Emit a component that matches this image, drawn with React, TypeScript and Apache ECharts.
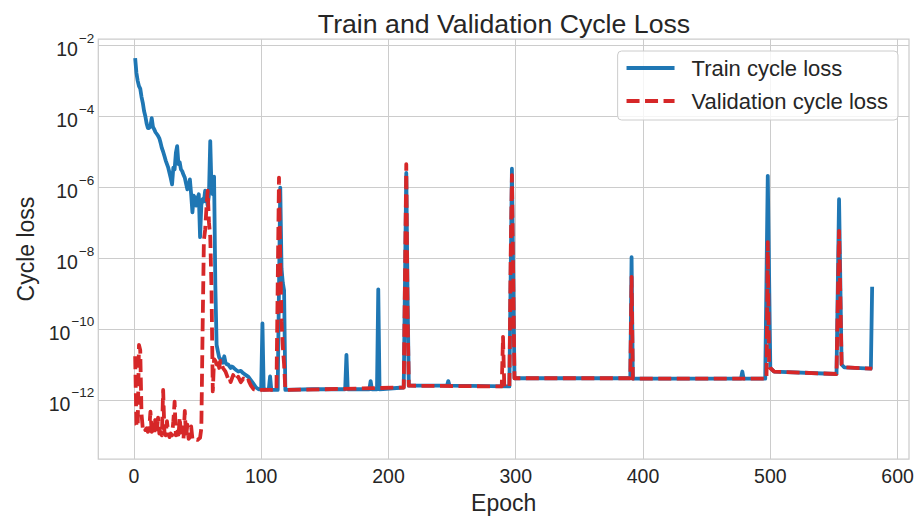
import React, { useEffect, useRef } from "react";
import * as echarts from "echarts";

// Tick values
const xTicks = [0, 100, 200, 300, 400, 500, 600];
const yTickExps = [-12, -10, -8, -6, -4, -2];

// Train cycle loss, stored as log10(loss)
const trainEpochs = [
  1, 2, 3, 4, 5, 6, 7, 8, 9, 10, 11, 12, 13, 14, 15, 16, 17, 18, 19, 20,
  21, 22, 23, 24, 25, 26, 27, 28, 29, 30, 31, 32, 33, 34, 35, 36, 37, 38, 39, 40,
  41, 42, 43, 44, 45, 46, 47, 48, 49, 50, 51, 52, 53, 54, 55, 56, 57, 58, 59, 60,
  61, 62, 63, 64, 65, 66, 67, 68, 69, 70, 71, 72, 73, 74, 75, 76, 77, 78, 80, 82,
  84, 86, 88, 90, 92, 94, 96, 98, 100, 101, 102, 106, 107, 108, 113, 115, 116, 117, 118, 119,
  140, 166, 167, 168, 185, 186, 187, 191, 192, 193, 212, 214, 215, 216, 246, 247, 248, 295, 297, 299,
  390, 391, 392, 477, 478, 479, 496, 498, 500, 503, 552, 554, 556, 558, 579, 580,
];
const trainLossLog10 = [
  -2.36, -2.78, -3.0, -3.15, -3.22, -3.45, -3.62, -3.85, -4.0, -4.2, -4.33, -4.33, -4.28, -4.05, -4.3, -4.37, -4.45, -4.5, -4.55, -4.62,
  -4.75, -4.9, -5.0, -5.12, -5.25, -5.35, -5.45, -5.6, -5.75, -5.92, -5.45, -5.5, -5.03, -4.84, -5.35, -5.3, -5.5, -5.55, -5.65, -5.73,
  -5.9, -6.06, -6.0, -5.78, -6.2, -6.71, -6.24, -6.3, -6.52, -6.3, -6.2, -7.41, -6.5, -6.34, -6.4, -6.1, -6.3, -6.52, -6.2, -4.7,
  -6.06, -6.2, -5.7, -8.77, -10.45, -10.63, -10.8, -10.85, -10.9, -10.95, -10.77, -10.95, -11.0, -11.0, -11.05, -11.1, -11.06, -11.08, -11.15, -11.2,
  -11.18, -11.25, -11.3, -11.35, -11.45, -11.55, -11.65, -11.7, -11.7, -9.84, -11.72, -11.7, -11.34, -11.72, -11.72, -6.01, -8.3, -8.7, -8.91, -11.72,
  -11.7, -11.7, -10.73, -11.7, -11.7, -11.47, -11.7, -11.7, -8.88, -11.7, -11.65, -5.6, -9.0, -11.6, -11.6, -11.47, -11.6, -11.62, -5.48, -11.39,
  -11.39, -7.97, -11.4, -11.4, -11.2, -11.4, -11.4, -5.68, -11.1, -11.2, -11.27, -6.34, -11.0, -11.08, -11.12, -8.81,
];

// Validation cycle loss, stored as log10(loss)
const valEpochs = [
  1, 2, 3, 4, 5, 6, 7, 8, 9, 10, 11, 12, 13, 14, 15, 16, 17, 18, 19, 20,
  21, 22, 23, 24, 25, 26, 27, 28, 29, 30, 31, 32, 33, 34, 35, 36, 37, 38, 39, 40,
  41, 42, 43, 44, 45, 46, 47, 48, 49, 50, 51, 52, 53, 54, 55, 56, 57, 58, 59, 60,
  61, 62, 63, 64, 65, 66, 67, 68, 70, 72, 74, 75, 76, 78, 80, 82, 84, 86, 88, 90,
  92, 94, 96, 98, 100, 112, 114, 115, 116, 117, 118, 119, 150, 212, 214, 215, 216, 289, 290, 291,
  295, 296, 297, 299, 390, 391, 392, 497, 498, 499, 500, 503, 552, 554, 556, 558, 580,
];
const valLossLog10 = [
  -10.77, -12.7, -12.75, -10.45, -10.6, -12.4, -12.8, -12.75, -12.85, -12.8, -12.9, -12.85, -12.33, -12.9, -12.85, -12.95, -12.45, -12.9, -12.5, -12.95,
  -12.9, -13.0, -11.72, -12.9, -13.0, -12.6, -12.95, -13.05, -12.95, -13.0, -12.6, -12.05, -13.0, -12.9, -13.05, -12.5, -12.95, -13.05, -13.1, -12.31,
  -13.05, -12.7, -13.1, -13.05, -12.75, -13.1, -13.13, -13.1, -13.12, -13.13, -13.1, -13.07, -12.8, -10.0, -7.5, -7.2, -6.6, -6.1, -7.0, -7.4,
  -8.9, -11.76, -10.85, -10.9, -11.0, -10.85, -11.1, -10.9, -11.1, -11.2, -11.4, -11.35, -11.5, -11.3, -11.45, -11.35, -11.5, -11.4, -11.5, -11.45,
  -11.6, -11.7, -11.72, -11.75, -11.72, -11.72, -5.73, -8.0, -9.8, -10.5, -11.0, -11.72, -11.7, -11.65, -5.35, -9.5, -11.6, -11.62, -10.22, -11.62,
  -11.62, -8.0, -5.66, -11.39, -11.39, -8.53, -11.4, -11.4, -7.55, -11.0, -11.1, -11.2, -11.27, -7.23, -11.0, -11.08, -11.12,
];

const FONT = "'Liberation Sans', Arial, sans-serif";
const TEXT = "#262626";
const GRID = "#cccccc";

export default function App() {
  const ref = useRef<HTMLDivElement>(null);
  useEffect(() => {
    if (!ref.current) return;
    const chart = echarts.init(ref.current, null, { renderer: "svg" });
    chart.setOption({
      animation: false,
      backgroundColor: "#ffffff",
      title: {
        text: "Train and Validation Cycle Loss",
        left: 499,
        top: 5,
        textAlign: "center",
        textStyle: { fontFamily: FONT, fontSize: 26.7, fontWeight: "normal", color: TEXT },
      },
      legend: {
        orient: "vertical",
        right: 21,
        top: 51,
        itemWidth: 48,
        itemHeight: 14,
        itemGap: 9,
        padding: [5, 10, 7, 7],
        backgroundColor: "rgba(255,255,255,0.8)",
        borderColor: GRID,
        borderWidth: 1,
        borderRadius: 4,
        itemStyle: { opacity: 0 },
        lineStyle: { width: 3.8 },
        textStyle: { fontFamily: FONT, fontSize: 22, color: TEXT, lineHeight: 24, padding: [0, 0, 0, 12] },
        data: ["Train cycle loss", "Validation cycle loss"],
      },
      grid: {
        left: 98.3,
        right: 10,
        top: 39,
        bottom: 58,
        show: true,
        borderColor: GRID,
        borderWidth: 1.25,
        containLabel: false,
      },
      xAxis: {
        type: "value",
        min: -27.95,
        max: 608.95,
        name: "Epoch",
        nameLocation: "middle",
        nameGap: 24,
        nameTextStyle: { fontFamily: FONT, fontSize: 23, color: TEXT },
        axisLine: { show: false },
        axisTick: { show: false, customValues: xTicks },
        axisLabel: {
          customValues: xTicks,
          margin: 7,
          fontFamily: FONT,
          fontSize: 19.5,
          color: TEXT,
        },
        splitLine: { show: true, lineStyle: { color: GRID, width: 1 } },
      },
      yAxis: {
        type: "value",
        min: -13.67,
        max: -1.82,
        name: "Cycle loss",
        nameLocation: "middle",
        nameGap: 60,
        nameTextStyle: { fontFamily: FONT, fontSize: 23, color: TEXT },
        axisLine: { show: false },
        axisTick: { show: false, customValues: yTickExps },
        axisLabel: {
          customValues: yTickExps,
          margin: 4,
          color: TEXT,
          fontFamily: FONT,
          formatter: (v: number) => `{b|10}{s|\u2212${Math.abs(Math.round(v))}}`,
          rich: {
            b: { fontFamily: FONT, fontSize: 19.5, color: TEXT, lineHeight: 20, padding: [8, 0, 0, 0] },
            s: { fontFamily: FONT, fontSize: 13.5, color: TEXT, lineHeight: 14, padding: [0, 0, 14, 1] },
          },
        },
        splitLine: { show: true, lineStyle: { color: GRID, width: 1 } },
      },
      series: [
        {
          type: "line",
          name: "Train cycle loss",
          data: trainEpochs.map((e, i) => [e, trainLossLog10[i]]),
          symbol: "none",
          showSymbol: false,
          lineStyle: { color: "#1f77b4", width: 3.8, join: "round" },
          itemStyle: { color: "#1f77b4" },
          z: 2,
        },
        {
          type: "line",
          name: "Validation cycle loss",
          data: valEpochs.map((e, i) => [e, valLossLog10[i]]),
          symbol: "none",
          showSymbol: false,
          lineStyle: { color: "#d62728", width: 3.8, type: [13, 5.5], join: "round" },
          itemStyle: { color: "#d62728" },
          z: 3,
        },
      ],
    });
    return () => chart.dispose();
  }, []);
  return (
    <div
      ref={ref}
      style={{ position: "absolute", left: 0, top: 0, width: 919, height: 519 }}
    />
  );
}
